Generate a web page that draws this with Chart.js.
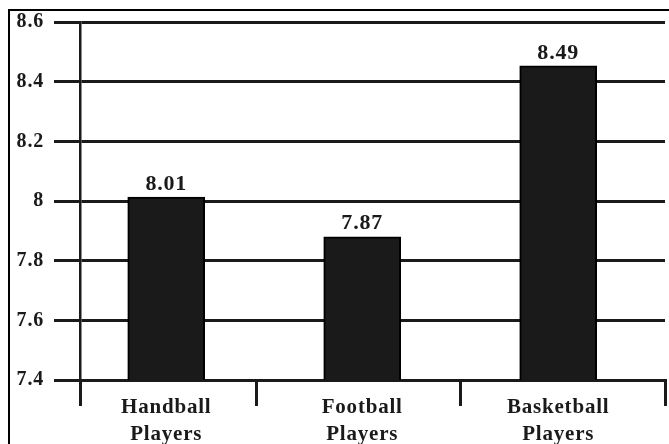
<!DOCTYPE html>
<html>
<head>
<meta charset="utf-8">
<script src="https://cdn.jsdelivr.net/npm/chart.js@4.4.1/dist/chart.umd.min.js"></script>
<style>
  html, body { margin: 0; padding: 0; background: #fff; }
  #wrap { width: 669px; height: 444px; }
</style>
</head>
<body>
<div id="wrap"><canvas id="myChart" width="669" height="444"></canvas></div>
<script>
// data //
var categories = ['Handball Players', 'Football Players', 'Basketball Players'];
var barValues = [8.013, 7.88, 8.453];
var valueLabels = ['8.01', '7.87', '8.49'];
var yTicks = [7.4, 7.6, 7.8, 8, 8.2, 8.4, 8.6];

// x axis is linear so the bars sit where they sit in the picture //
var xMin = -0.44, xMax = 2.545;
var xBounds = [xMin, 0.46, 1.5, xMax];

var points = [];
for (var i = 0; i < categories.length; i++) {
    points.push({x: i, y: barValues[i]});
}

var serif = '"Liberation Serif", "Times New Roman", serif';
var ink = '#1a1a1a';

var framePlugin = {
    id: 'frame',
    beforeDraw: function(chart) {
        var ctx = chart.ctx;
        ctx.letterSpacing = '0.8px';
        ctx.save();
        ctx.strokeStyle = '#000';
        ctx.lineWidth = 2;
        ctx.strokeRect(9, 10, 700, 500);
        ctx.restore();
    }
};

var valuePlugin = {
    id: 'values',
    afterDatasetsDraw: function(chart) {
        var ctx = chart.ctx;
        var meta = chart.getDatasetMeta(0);
        ctx.save();
        ctx.font = 'bold 22px ' + serif;
        ctx.fillStyle = ink;
        ctx.textAlign = 'center';
        ctx.textBaseline = 'bottom';
        meta.data.forEach(function(bar, idx) {
            ctx.fillText(valueLabels[idx], bar.x, bar.y - 2);
        });
        ctx.restore();
    }
};

var ctx = document.getElementById('myChart').getContext('2d');
var chart = new Chart(ctx, {
    type: 'bar',
    data: {
        datasets: [{
            data: points,
            backgroundColor: '#1a1a1a',
            borderColor: '#000',
            borderWidth: 2,
            barThickness: 77
        }]
    },
    options: {
        responsive: false,
        animation: false,
        events: [],
        layout: { padding: { left: 0, top: 15, right: 4, bottom: 0 } },
        plugins: {
            legend: { display: false },
            tooltip: { enabled: false }
        },
        scales: {
            x: {
                type: 'linear',
                offset: false,
                min: xMin,
                max: xMax,
                afterBuildTicks: function(scale) {
                    var vals = xBounds.concat([0, 1, 2]).sort(function(a, b) { return a - b; });
                    scale.ticks = vals.map(function(v) { return {value: v}; });
                },
                afterFit: function(scale) { scale.height = 64; },
                grid: {
                    offset: false,
                    drawOnChartArea: false,
                    tickLength: 26,
                    lineWidth: 3,
                    color: function(c) {
                        if (c.tick && Number.isInteger(c.tick.value)) return 'rgba(0,0,0,0)';
                        return ink;
                    }
                },
                border: { display: true, color: ink, width: 3 },
                ticks: {
                    autoSkip: false,
                    maxRotation: 0,
                    padding: -12,
                    color: ink,
                    font: { family: serif, size: 21, weight: 'bold', lineHeight: 1.3 },
                    callback: function(v) {
                        if (Number.isInteger(v) && categories[v]) return categories[v].split(' ');
                        return '';
                    }
                }
            },
            y: {
                min: 7.4,
                max: 8.6,
                afterBuildTicks: function(scale) {
                    scale.ticks = yTicks.map(function(v) { return {value: v}; });
                },
                afterFit: function(scale) { scale.width = 80; },
                grid: {
                    color: ink,
                    lineWidth: 3,
                    tickLength: 26
                },
                border: { display: true, color: ink, width: 2.5 },
                ticks: {
                    padding: 10,
                    color: ink,
                    font: { family: serif, size: 20, weight: 'bold' },
                    callback: function(v) { return String(Math.round(v * 10) / 10); }
                }
            }
        }
    },
    plugins: [framePlugin, valuePlugin]
});
</script>
</body>
</html>
